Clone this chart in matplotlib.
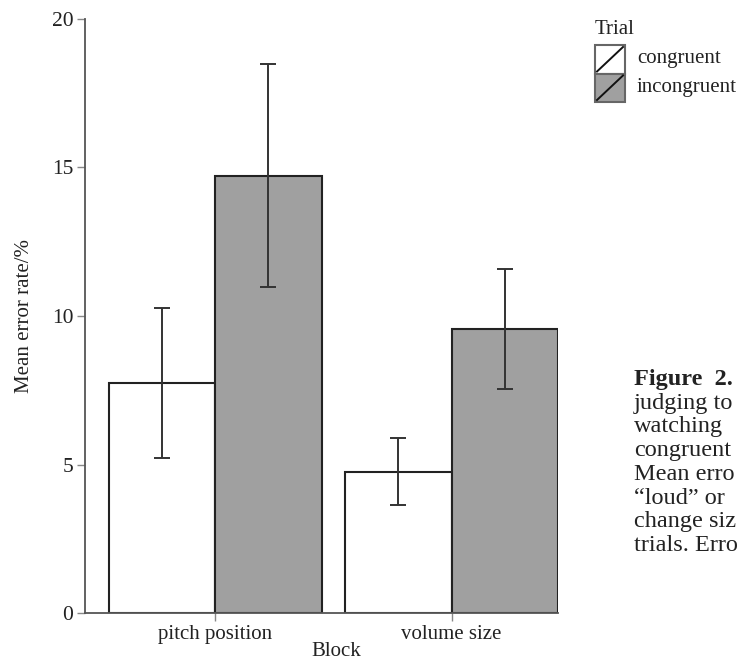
import numpy as np
import matplotlib
matplotlib.use("Agg")
from matplotlib import pyplot as plt
from matplotlib.patches import Rectangle
from matplotlib.lines import Line2D

# data
blocks = ['pitch position', 'volume size']
trials = ['congruent', 'incongruent']
congruent_mean = [7.75, 4.75]
congruent_err = [2.52, 1.13]
incongruent_mean = [14.72, 9.56]
incongruent_err = [3.76, 2.03]
fills = ['white', '#a0a0a0']

# caption lines, as far as they show before the right edge
caption = ['judging to', 'watching', 'congruent', 'Mean erro',
           '\u201cloud\u201d or', 'change siz', 'trials. Erro']

plt.rcParams['font.family'] = ['Liberation Serif', 'DejaVu Serif']
plt.rcParams['font.size'] = 15

W, H = 739, 662
fig = plt.figure(figsize=(W / 100, H / 100), dpi=100)
ax = fig.add_axes([85 / W, 1 - 613 / H, (558 - 85) / W, (613 - 19) / H])

x = np.arange(len(blocks))
bw = 0.45
means = [congruent_mean, incongruent_mean]
errs = [congruent_err, incongruent_err]
for i in range(2):
    pos = x + (i - 0.5) * bw
    ax.bar(pos, means[i], width=bw, color=fills[i], edgecolor='#222222',
           linewidth=1.5, zorder=2)
    ax.errorbar(pos, means[i], yerr=errs[i], fmt='none', ecolor='#333333',
                elinewidth=1.4, capsize=6, capthick=1.4, zorder=3)

ax.set_xlim(-0.55, 1.45)
ax.set_ylim(0, 20)
ax.set_xticks(x)
ax.set_xticklabels(blocks)
ax.set_yticks([0, 5, 10, 15, 20])
for s in ['top', 'right']:
    ax.spines[s].set_visible(False)
for s in ['left', 'bottom']:
    ax.spines[s].set_color('#555555')
    ax.spines[s].set_linewidth(1.3)
ax.tick_params(length=5.5, width=1, color='#888888', labelcolor='#222222', pad=3)
ax.tick_params(axis='y', labelsize=15.5)
ax.set_ylabel('Mean error rate/%', color='#222222', labelpad=13)
fig.text(336 / W, 1 - 651 / H, 'Block', ha='center', va='center', color='#222222')

# legend drawn by hand, in pixel positions
def px(xp, yp):
    return xp / W, 1 - yp / H

fig.text(*px(595, 29), 'Trial', ha='left', va='center', color='#222222')
for i, lab in enumerate(trials):
    top = 45 + i * 28.5
    x0, y0 = px(595, top + 28.5)
    r = Rectangle((x0, y0), 30 / W, 28.5 / H, transform=fig.transFigure,
                  facecolor=fills[i], edgecolor='#666666', linewidth=1.5)
    fig.add_artist(r)
    fig.add_artist(Line2D([x0 + 2 / W, x0 + 28 / W], [y0 + 2 / H, y0 + 26.5 / H],
                          transform=fig.transFigure, color='#111111', linewidth=1.4))
    fig.text(*px(637, top + 14), lab, ha='left', va='center', color='#222222')

# caption at the right edge
fig.text(*px(634, 385), 'Figure  2.', ha='left', va='baseline',
         fontsize=17.5, fontweight='bold', color='#222222')
for i, line in enumerate(caption):
    fig.text(*px(634, 385 + (i + 1) * 23.7), line, ha='left', va='baseline',
             fontsize=17.5, color='#222222')

fig.savefig('out.png', dpi=100)
